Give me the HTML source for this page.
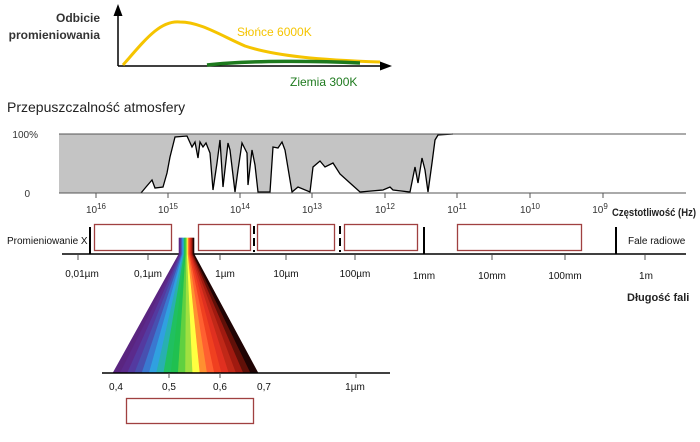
<!DOCTYPE html>
<html><head><meta charset="utf-8"><style>
html,body{margin:0;padding:0;background:#fff;}
svg{display:block;font-family:"Liberation Sans",Arial,sans-serif;}
</style></head><body>
<svg width="700" height="442" viewBox="0 0 700 442" xmlns="http://www.w3.org/2000/svg">
<defs>
<marker id="ar" markerWidth="8" markerHeight="8" refX="4" refY="4" orient="auto"><path d="M0,1 L8,4 L0,7 Z" fill="#000"/></marker>
</defs>
<!-- top chart -->
<line x1="118" y1="66" x2="118" y2="10" stroke="#000" stroke-width="1.5" marker-end="url(#ar)"/>
<line x1="118" y1="66" x2="386" y2="66" stroke="#000" stroke-width="1.5" marker-end="url(#ar)"/>
<text x="100" y="22" font-size="12" font-weight="bold" text-anchor="end" fill="#333">Odbicie</text>
<text x="100" y="39" font-size="12" font-weight="bold" text-anchor="end" fill="#333">promieniowania</text>
<path d="M123,65 C145,40 160,20 180,22 C200,22 220,35 245,46 C275,56 320,60 380,62" stroke="#f5c400" stroke-width="3" fill="none"/>
<path d="M207,65 C250,60 320,61 360,63" stroke="#1e7a1e" stroke-width="3.5" fill="none"/>
<text x="237" y="36" font-size="12" fill="#f5c400">Słońce 6000K</text>
<text x="290" y="86" font-size="12" fill="#1e7a1e">Ziemia 300K</text>
<text x="7" y="112" font-size="14" fill="#222">Przepuszczalność atmosfery</text>
<!-- atmosphere -->
<text x="38" y="138" font-size="10" text-anchor="end" fill="#333">100%</text>
<text x="30" y="197" font-size="10" text-anchor="end" fill="#333">0</text>
<path d="M59,134 L453,134 L438,135 L435,140 L432,163 L428,192 L425,170 L422,158 L418,183 L415,167 L410,192 L393,190 L390,187 L383,190 L360,192 L350,183 L340,174 L333,163 L325,167 L320,161 L313,167 L310,192 L298,187 L292,192 L285,150 L282,142 L278,148 L273,147 L270,192 L258,192 L255,165 L252,150 L248,185 L247,153 L242,143 L238,170 L235,192 L230,150 L228,143 L223,187 L220,140 L217,163 L213,190 L210,153 L206,143 L203,147 L200,142 L198,158 L195,142 L192,147 L187,136 L175,137 L170,157 L167,173 L163,187 L155,188 L152,180 L146,187 L141,193 L59,193 Z" fill="#c4c4c4"/>
<path d="M141,193 L146,187 L152,180 L155,188 L163,187 L167,173 L170,157 L175,137 L187,136 L192,147 L195,142 L198,158 L200,142 L203,147 L206,143 L210,153 L213,190 L217,163 L220,140 L223,187 L228,143 L230,150 L235,192 L238,170 L242,143 L247,153 L248,185 L252,150 L255,165 L258,192 L270,192 L273,147 L278,148 L282,142 L285,150 L292,192 L298,187 L310,192 L313,167 L320,161 L325,167 L333,163 L340,174 L350,183 L360,192 L383,190 L390,187 L393,190 L410,192 L415,167 L418,183 L422,158 L425,170 L428,192 L432,163 L435,140 L438,135 L453,134" fill="none" stroke="#000" stroke-width="1.3"/>
<line x1="59" y1="134" x2="686" y2="134" stroke="#555" stroke-width="1"/>
<line x1="59" y1="193" x2="686" y2="193" stroke="#555" stroke-width="1"/>
<g stroke="#555" stroke-width="1">
<line x1="96" y1="193" x2="96" y2="198"/><line x1="168" y1="193" x2="168" y2="198"/><line x1="240" y1="193" x2="240" y2="198"/><line x1="312" y1="193" x2="312" y2="198"/><line x1="385" y1="193" x2="385" y2="198"/><line x1="457" y1="193" x2="457" y2="198"/><line x1="530" y1="193" x2="530" y2="198"/><line x1="603" y1="193" x2="603" y2="198"/>
</g>
<g font-size="10" fill="#333" text-anchor="middle">
<text x="96" y="213">10<tspan dy="-4" font-size="8">16</tspan></text>
<text x="168" y="213">10<tspan dy="-4" font-size="8">15</tspan></text>
<text x="240" y="213">10<tspan dy="-4" font-size="8">14</tspan></text>
<text x="312" y="213">10<tspan dy="-4" font-size="8">13</tspan></text>
<text x="385" y="213">10<tspan dy="-4" font-size="8">12</tspan></text>
<text x="457" y="213">10<tspan dy="-4" font-size="8">11</tspan></text>
<text x="530" y="213">10<tspan dy="-4" font-size="8">10</tspan></text>
<text x="600" y="213">10<tspan dy="-4" font-size="8">9</tspan></text>
</g>
<text x="612" y="216" font-size="11" font-weight="bold" fill="#222" textLength="84" lengthAdjust="spacingAndGlyphs">Częstotliwość (Hz)</text>
<!-- bands -->
<g fill="#fff" stroke="#a04040" stroke-width="1.3">
<rect x="94.5" y="224.5" width="77" height="26"/>
<rect x="198.5" y="224.5" width="52" height="26"/>
<rect x="257.5" y="224.5" width="77" height="26"/>
<rect x="344.5" y="224.5" width="73" height="26"/>
<rect x="457.5" y="224.5" width="124" height="26"/>
<rect x="126.5" y="398.5" width="127" height="25"/>
</g>
<g stroke="#000" stroke-width="2">
<line x1="90" y1="227" x2="90" y2="254"/><line x1="424" y1="227" x2="424" y2="254"/><line x1="616" y1="227" x2="616" y2="254"/>
<line x1="254" y1="226" x2="254" y2="252" stroke-dasharray="8,4"/><line x1="340" y1="226" x2="340" y2="252" stroke-dasharray="8,4"/>
</g>
<line x1="62" y1="254" x2="686" y2="254" stroke="#000" stroke-width="1.5"/>
<g stroke="#555" stroke-width="1">
<line x1="78" y1="255" x2="78" y2="260"/><line x1="148" y1="255" x2="148" y2="260"/><line x1="220" y1="255" x2="220" y2="260"/><line x1="286" y1="255" x2="286" y2="260"/><line x1="355" y1="255" x2="355" y2="260"/><line x1="492" y1="255" x2="492" y2="260"/><line x1="565" y1="255" x2="565" y2="260"/><line x1="645" y1="255" x2="645" y2="260"/>
</g>
<text x="7" y="244" font-size="10" fill="#111">Promieniowanie X</text>
<text x="628" y="244" font-size="10" fill="#111">Fale radiowe</text>
<g font-size="10" fill="#111" text-anchor="middle">
<text x="82" y="277">0,01µm</text><text x="148" y="277">0,1µm</text><text x="225" y="277">1µm</text><text x="286" y="277">10µm</text><text x="355" y="277">100µm</text><text x="424" y="279">1mm</text><text x="492" y="279">10mm</text><text x="565" y="279">100mm</text><text x="646" y="279">1m</text>
</g>
<text x="627" y="301" font-size="11" font-weight="bold" fill="#222">Długość fali</text>
<!-- spectrum fan -->
<g stroke-width="0.6">
<path d="M179,238 L179.75,238 L179.75,254 L120.25,373 L113,373 L179,254Z" fill="#5a2580" stroke="#5a2580"/>
<path d="M179.75,238 L180.5,238 L180.5,254 L127.5,373 L120.25,373 L179.75,254Z" fill="#5b2a8c" stroke="#5b2a8c"/>
<path d="M180.5,238 L181.25,238 L181.25,254 L134.75,373 L127.5,373 L180.5,254Z" fill="#543aa0" stroke="#543aa0"/>
<path d="M181.25,238 L182,238 L182,254 L142,373 L134.75,373 L181.25,254Z" fill="#4850b0" stroke="#4850b0"/>
<path d="M182,238 L182.75,238 L182.75,254 L149.25,373 L142,373 L182,254Z" fill="#3a78d0" stroke="#3a78d0"/>
<path d="M182.75,238 L183.5,238 L183.5,254 L156.5,373 L149.25,373 L182.75,254Z" fill="#30a0e0" stroke="#30a0e0"/>
<path d="M183.5,238 L184.25,238 L184.25,254 L163.75,373 L156.5,373 L183.5,254Z" fill="#28b0b0" stroke="#28b0b0"/>
<path d="M184.25,238 L185,238 L185,254 L171,373 L163.75,373 L184.25,254Z" fill="#20c060" stroke="#20c060"/>
<path d="M185,238 L185.75,238 L185.75,254 L178.25,373 L171,373 L185,254Z" fill="#20c050" stroke="#20c050"/>
<path d="M185.75,238 L186.5,238 L186.5,254 L185.5,373 L178.25,373 L185.75,254Z" fill="#60d040" stroke="#60d040"/>
<path d="M186.5,238 L187.25,238 L187.25,254 L192.75,373 L185.5,373 L186.5,254Z" fill="#a0e040" stroke="#a0e040"/>
<path d="M187.25,238 L188,238 L188,254 L200,373 L192.75,373 L187.25,254Z" fill="#ffff40" stroke="#ffff40"/>
<path d="M188,238 L188.75,238 L188.75,254 L207.25,373 L200,373 L188,254Z" fill="#ff9030" stroke="#ff9030"/>
<path d="M188.75,238 L189.5,238 L189.5,254 L214.5,373 L207.25,373 L188.75,254Z" fill="#ff6030" stroke="#ff6030"/>
<path d="M189.5,238 L190.25,238 L190.25,254 L221.75,373 L214.5,373 L189.5,254Z" fill="#f04020" stroke="#f04020"/>
<path d="M190.25,238 L191,238 L191,254 L229,373 L221.75,373 L190.25,254Z" fill="#e03020" stroke="#e03020"/>
<path d="M191,238 L191.75,238 L191.75,254 L236.25,373 L229,373 L191,254Z" fill="#c02818" stroke="#c02818"/>
<path d="M191.75,238 L192.5,238 L192.5,254 L243.5,373 L236.25,373 L191.75,254Z" fill="#a01a10" stroke="#a01a10"/>
<path d="M192.5,238 L193.25,238 L193.25,254 L250.75,373 L243.5,373 L192.5,254Z" fill="#601008" stroke="#601008"/>
<path d="M193.25,238 L194,238 L194,254 L258,373 L250.75,373 L193.25,254Z" fill="#200404" stroke="#200404"/>
</g>
<line x1="102" y1="373" x2="390" y2="373" stroke="#000" stroke-width="1.5"/>
<g stroke="#555" stroke-width="1">
<line x1="169" y1="373" x2="169" y2="378"/><line x1="220" y1="373" x2="220" y2="378"/><line x1="356" y1="373" x2="356" y2="378"/>
</g>
<g font-size="10" fill="#111" text-anchor="middle">
<text x="116" y="390">0,4</text><text x="169" y="390">0,5</text><text x="220" y="390">0,6</text><text x="264" y="390">0,7</text><text x="355" y="390">1µm</text>
</g>
</svg>
</body></html>
